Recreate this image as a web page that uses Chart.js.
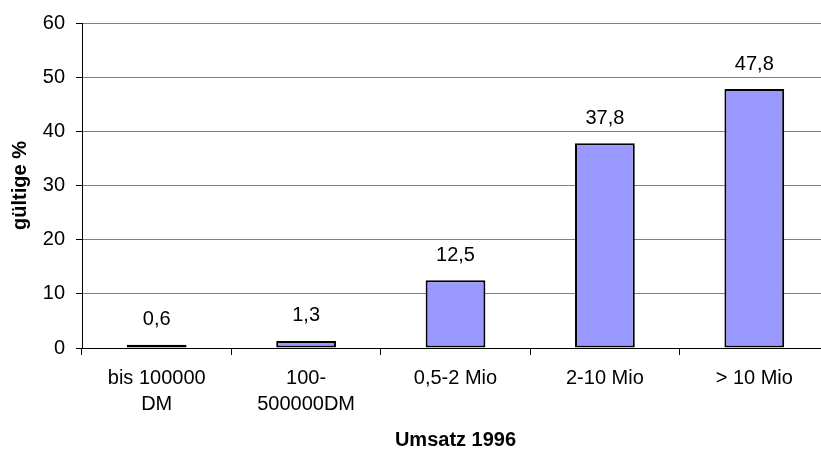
<!DOCTYPE html>
<html>
<head>
<meta charset="utf-8">
<style>
  html, body { margin: 0; padding: 0; background: #fff; overflow: hidden; }
  #wrap { width: 830px; height: 452px; }
</style>
<script src="https://cdn.jsdelivr.net/npm/chart.js@4/dist/chart.umd.min.js"></script>
</head>
<body>
<div id="wrap"><canvas id="c" width="830" height="452"></canvas></div>
<script>
// Umsatz-Klassen und Anteile (gültige %)
const categories = [["bis 100000", "DM"], ["100-", "500000DM"], "0,5-2 Mio", "2-10 Mio", "> 10 Mio"];
const values = [0.6, 1.3, 12.5, 37.8, 47.8];
const yTicks = [0, 10, 20, 30, 40, 50, 60];

const FONT = "'Liberation Sans', Arial, sans-serif";

// Wertbeschriftungen über den Säulen (Dezimalkomma)
const valueLabels = {
  id: 'valueLabels',
  afterDatasetsDraw(chart) {
    const ctx = chart.ctx;
    const meta = chart.getDatasetMeta(0);
    ctx.save();
    ctx.font = "20px " + FONT;
    ctx.fillStyle = '#000';
    ctx.textAlign = 'center';
    ctx.textBaseline = 'middle';
    meta.data.forEach((bar, i) => {
      const txt = values[i].toFixed(1).replace('.', ',');
      ctx.fillText(txt, bar.x, bar.y - 25);
    });
    ctx.restore();
  }
};

new Chart(document.getElementById('c'), {
  type: 'bar',
  data: {
    labels: categories,
    datasets: [{
      data: values,
      backgroundColor: '#9999FF',
      borderColor: '#000000',
      borderWidth: 2,
      borderSkipped: false,
      barPercentage: 0.4,
      categoryPercentage: 1.0
    }]
  },
  options: {
    responsive: false,
    animation: false,
    devicePixelRatio: 1,
    layout: { padding: { top: 21, right: 1, bottom: 0, left: 0 } },
    plugins: {
      legend: { display: false },
      tooltip: { enabled: false }
    },
    scales: {
      x: {
        afterFit(scale) { scale.height = 104; },
        grid: {
          offset: true,
          drawOnChartArea: false,
          drawTicks: true,
          tickLength: 7,
          color: '#000'
        },
        border: { color: '#000', width: 1 },
        ticks: {
          color: '#000',
          font: { family: FONT, size: 20, lineHeight: 1.3 },
          padding: 10,
          maxRotation: 0,
          autoSkip: false
        },
        title: {
          display: true,
          text: 'Umsatz 1996',
          color: '#000',
          font: { family: FONT, size: 20, weight: 'bold' },
          padding: { top: 0, bottom: 0 }
        }
      },
      y: {
        min: 0,
        max: 60,
        afterFit(scale) { scale.width = 82; },
        afterBuildTicks(scale) { scale.ticks = yTicks.map(v => ({ value: v })); },
        grid: {
          color: '#808080',
          lineWidth: 1,
          drawTicks: true,
          tickLength: 6,
          tickColor: '#000'
        },
        border: { color: '#000', width: 1 },
        ticks: {
          color: '#000',
          font: { family: FONT, size: 20 },
          padding: 11
        },
        title: {
          display: true,
          text: 'gültige %',
          color: '#000',
          font: { family: FONT, size: 20, weight: 'bold' },
          padding: { top: 8, bottom: 8 }
        }
      }
    }
  },
  plugins: [valueLabels]
});
</script>
</body>
</html>
